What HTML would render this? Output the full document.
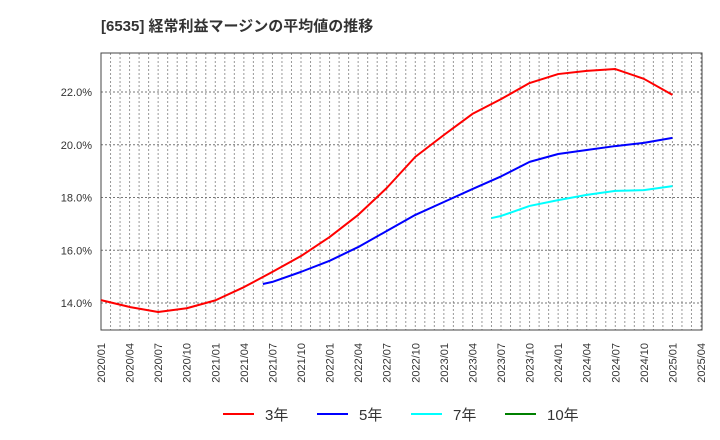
<!DOCTYPE html>
<html><head><meta charset="utf-8"><style>
body{margin:0;background:#fff;}
svg{display:block;font-family:"Liberation Sans","Noto Sans CJK JP",sans-serif;}
</style></head><body>
<svg id="chart" width="720" height="440">
<text x="101" y="31" font-size="15" font-weight="bold" fill="#333">[6535]  経常利益マージンの平均値の推移</text>
<g id="grid"></g>
<rect x="101" y="53" width="601" height="277" fill="none" stroke="#444" stroke-width="1"/>
<g id="series"></g>
<g id="axes"></g>
<g id="legend"></g>
</svg>
<script>
const xLabels=["2020/01","2020/04","2020/07","2020/10","2021/01","2021/04","2021/07","2021/10","2022/01","2022/04","2022/07","2022/10","2023/01","2023/04","2023/07","2023/10","2024/01","2024/04","2024/07","2024/10","2025/01","2025/04"];
const yTicks=[14,16,18,20,22];
const red3Months=[0,3,6,9,12,15,18,21,24,27,30,33,36,39,42,45,48,51,54,57,60];
const red3Values=[14.11,13.85,13.66,13.8,14.1,14.6,15.18,15.78,16.5,17.34,18.36,19.54,20.37,21.17,21.73,22.34,22.68,22.8,22.87,22.5,21.89];
const blue5Months=[17,18,21,24,27,30,33,36,39,42,45,48,51,54,57,60];
const blue5Values=[14.72,14.8,15.18,15.6,16.12,16.73,17.34,17.83,18.32,18.8,19.35,19.65,19.8,19.95,20.07,20.26];
const cyan7Months=[41,42,45,48,51,54,57,60];
const cyan7Values=[17.22,17.3,17.68,17.9,18.1,18.25,18.28,18.43];
const NS="http://www.w3.org/2000/svg";
const L=101,R=702,T=53,B=330;
const xs=m=>L+m*600/63;
const ys=v=>303-(v-14)*26.375;
function mk(tag,attrs,parent){const e=document.createElementNS(NS,tag);for(const k in attrs)e.setAttribute(k,attrs[k]);parent.appendChild(e);return e;}
const grid=document.getElementById('grid');
for(let m=1;m<=63;m++){
  const g=mk('line',{x1:xs(m),x2:xs(m),y1:T,y2:B,stroke:'#999','stroke-dasharray':'2,2','stroke-width':1},grid);
  
  
}
const axes=document.getElementById('axes');
yTicks.forEach(v=>{
  const g=mk('line',{x1:L,x2:R,y1:ys(v),y2:ys(v),stroke:'#777','stroke-dasharray':'2,2','stroke-width':1},grid);
  
  
  const t=mk('text',{x:92,y:ys(v)+4,'text-anchor':'end','font-size':11,fill:'#333'},axes);
  t.textContent=v.toFixed(1)+'%';
  
  
});
xLabels.forEach((s,i)=>{
  const x=xs(i*3);
  const t=mk('text',{x:0,y:0,transform:`translate(${x+4},343) rotate(-90)`,'text-anchor':'end','font-size':11,fill:'#333'},axes);
  t.textContent=s;
  
  
});
const series=document.getElementById('series');
function line(ms,vs,color,name){
  const p=mk('polyline',{points:ms.map((m,i)=>xs(m)+','+ys(vs[i])).join(' '),fill:'none',stroke:color,'stroke-width':2,'stroke-linejoin':'round'},series);
  
  
}
line(red3Months,red3Values,'#ff0000','series-3yr');
line(blue5Months,blue5Values,'#0000ff','series-5yr');
line(cyan7Months,cyan7Values,'#00ffff','series-7yr');
const legend=document.getElementById('legend');
[["3年","#ff0000",223],["5年","#0000ff",317],["7年","#00ffff",411],["10年","#008000",505]].forEach(([lab,c,x])=>{
  const g=mk('g',{},legend);
  
  
  mk('line',{x1:x,x2:x+31,y1:414,y2:414,stroke:c,'stroke-width':2},g);
  const t=mk('text',{x:x+42,y:420,'font-size':15,fill:'#333'},g);
  t.textContent=lab;
});
</script>
</body></html>
